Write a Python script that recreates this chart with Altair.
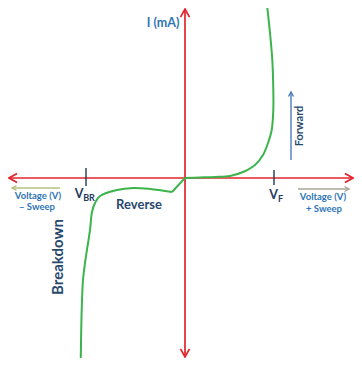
import altair as alt
import pandas as pd

# ---- data (schematic units: voltage to the right, current up) ----
fwd_v = [0, 15, 30, 45, 58, 70, 78, 83, 86.7, 88.3, 88.3, 87.3, 85, 81.7, 81]
fwd_i = [0, 0.5, 1, 2, 6, 13, 23, 35, 48, 68, 88, 118, 145, 176, 183]

rev_knee_v = [0, -13]
rev_knee_i = [0, -14]

rev_v = [-13, -35, -52, -68, -85, -90, -93, -95, -100, -102, -103.3, -104.3]
rev_i = [-14, -11, -10, -12, -18, -25, -34, -52, -85, -102, -132, -185]

# ---- styling ----
RED = "#e3232c"
GREEN = "#3cb44b"
BLUE = "#2e75b6"
NAVY = "#27496d"
DNAVY = "#1f3a5c"
FONT = "Lato"

xs = alt.Scale(domain=[-177, 169], nice=False, zero=False)
ys = alt.Scale(domain=[-180, 170], nice=False, zero=False)

def curve_df(vs, is_):
    return pd.DataFrame({"v": vs, "i": is_, "k": list(range(len(vs)))})

def curve(vs, is_, interp):
    return alt.Chart(curve_df(vs, is_)).mark_line(
        color=GREEN, strokeWidth=2, interpolate=interp, clip=True
    ).encode(
        x=alt.X("v:Q", scale=xs, axis=None),
        y=alt.Y("i:Q", scale=ys, axis=None),
        order="k:Q",
    )

# line segments (axes, ticks, guide arrows)
seg = pd.DataFrame([
    dict(v=-176, i=0, v2=168, i2=0, c=RED, w=1.7),
    dict(v=0, i=169, v2=0, i2=-179, c=RED, w=1.7),
    dict(v=-99, i=10, v2=-99, i2=-8, c=DNAVY, w=1.4),
    dict(v=89, i=8, v2=89, i2=-7, c=DNAVY, w=1.4),
    dict(v=-125, i=-10, v2=-173, i2=-10, c="#b3c27f", w=1.4),
    dict(v=113, i=-11, v2=164, i2=-11, c="#a8a698", w=1.4),
    dict(v=106, i=18, v2=106, i2=86, c="#4a7db5", w=1.4),
])
rules = alt.Chart(seg).mark_rule().encode(
    x=alt.X("v:Q", scale=xs, axis=None), x2="v2:Q",
    y=alt.Y("i:Q", scale=ys, axis=None), y2="i2:Q",
    color=alt.Color("c:N", scale=None),
    strokeWidth=alt.StrokeWidth("w:Q", scale=None),
)

heads = pd.DataFrame([
    dict(v=168, i=0, a=0, c=RED, s=81, w=1.7),
    dict(v=-176, i=0, a=180, c=RED, s=81, w=1.7),
    dict(v=0, i=169, a=270, c=RED, s=81, w=1.7),
    dict(v=0, i=-179, a=90, c=RED, s=81, w=1.7),
    dict(v=-173, i=-10, a=180, c="#b3c27f", s=25, w=1.4),
    dict(v=164, i=-11, a=0, c="#a8a698", s=25, w=1.4),
    dict(v=106, i=86, a=270, c="#4a7db5", s=25, w=1.4),
])
arrowheads = alt.Chart(heads).mark_point(
    shape="M-1.8,-1L0,0L-1.8,1", filled=False, opacity=1
).encode(
    x=alt.X("v:Q", scale=xs, axis=None),
    y=alt.Y("i:Q", scale=ys, axis=None),
    angle=alt.Angle("a:Q", scale=None),
    color=alt.Color("c:N", scale=None),
    size=alt.Size("s:Q", scale=None),
    strokeWidth=alt.StrokeWidth("w:Q", scale=None),
)

labels = pd.DataFrame([
    dict(t="I (mA)", v=-22, i=155, s=12.5, c=BLUE, a=0),
    dict(t="Voltage (V)", v=-147, i=-18, s=9.5, c=BLUE, a=0),
    dict(t="\u2013 Sweep", v=-148, i=-29, s=9.5, c=BLUE, a=0),
    dict(t="Voltage (V)", v=138, i=-18.5, s=9.5, c=BLUE, a=0),
    dict(t="+ Sweep", v=139, i=-30.5, s=9.5, c=BLUE, a=0),
    dict(t="Reverse", v=-46, i=-27, s=13, c=NAVY, a=0),
    dict(t="Breakdown", v=-127, i=-79, s=15, c=NAVY, a=270),
    dict(t="Forward", v=115, i=52, s=11, c=NAVY, a=270),
    dict(t="V", v=-106, i=-16, s=12.5, c=DNAVY, a=0),
    dict(t="BR", v=-96, i=-20, s=9, c=DNAVY, a=0),
    dict(t="V", v=88.5, i=-16.5, s=12.5, c=DNAVY, a=0),
    dict(t="F", v=95.5, i=-21, s=9, c=DNAVY, a=0),
])
texts = alt.Chart(labels).mark_text(
    font=FONT, fontWeight="bold", align="center", baseline="middle"
).encode(
    x=alt.X("v:Q", scale=xs, axis=None),
    y=alt.Y("i:Q", scale=ys, axis=None),
    text="t:N",
    size=alt.Size("s:Q", scale=None),
    color=alt.Color("c:N", scale=None),
    angle=alt.Angle("a:Q", scale=None),
)

chart = alt.layer(
    rules,
    arrowheads,
    curve(fwd_v, fwd_i, "catmull-rom"),
    curve(rev_knee_v, rev_knee_i, "linear"),
    curve(rev_v, rev_i, "catmull-rom"),
    texts,
).properties(
    width=346, height=350, autosize="none", padding=0
).configure_view(strokeWidth=0)

chart.save("out.html", embed_options={"renderer": "svg", "actions": False})
